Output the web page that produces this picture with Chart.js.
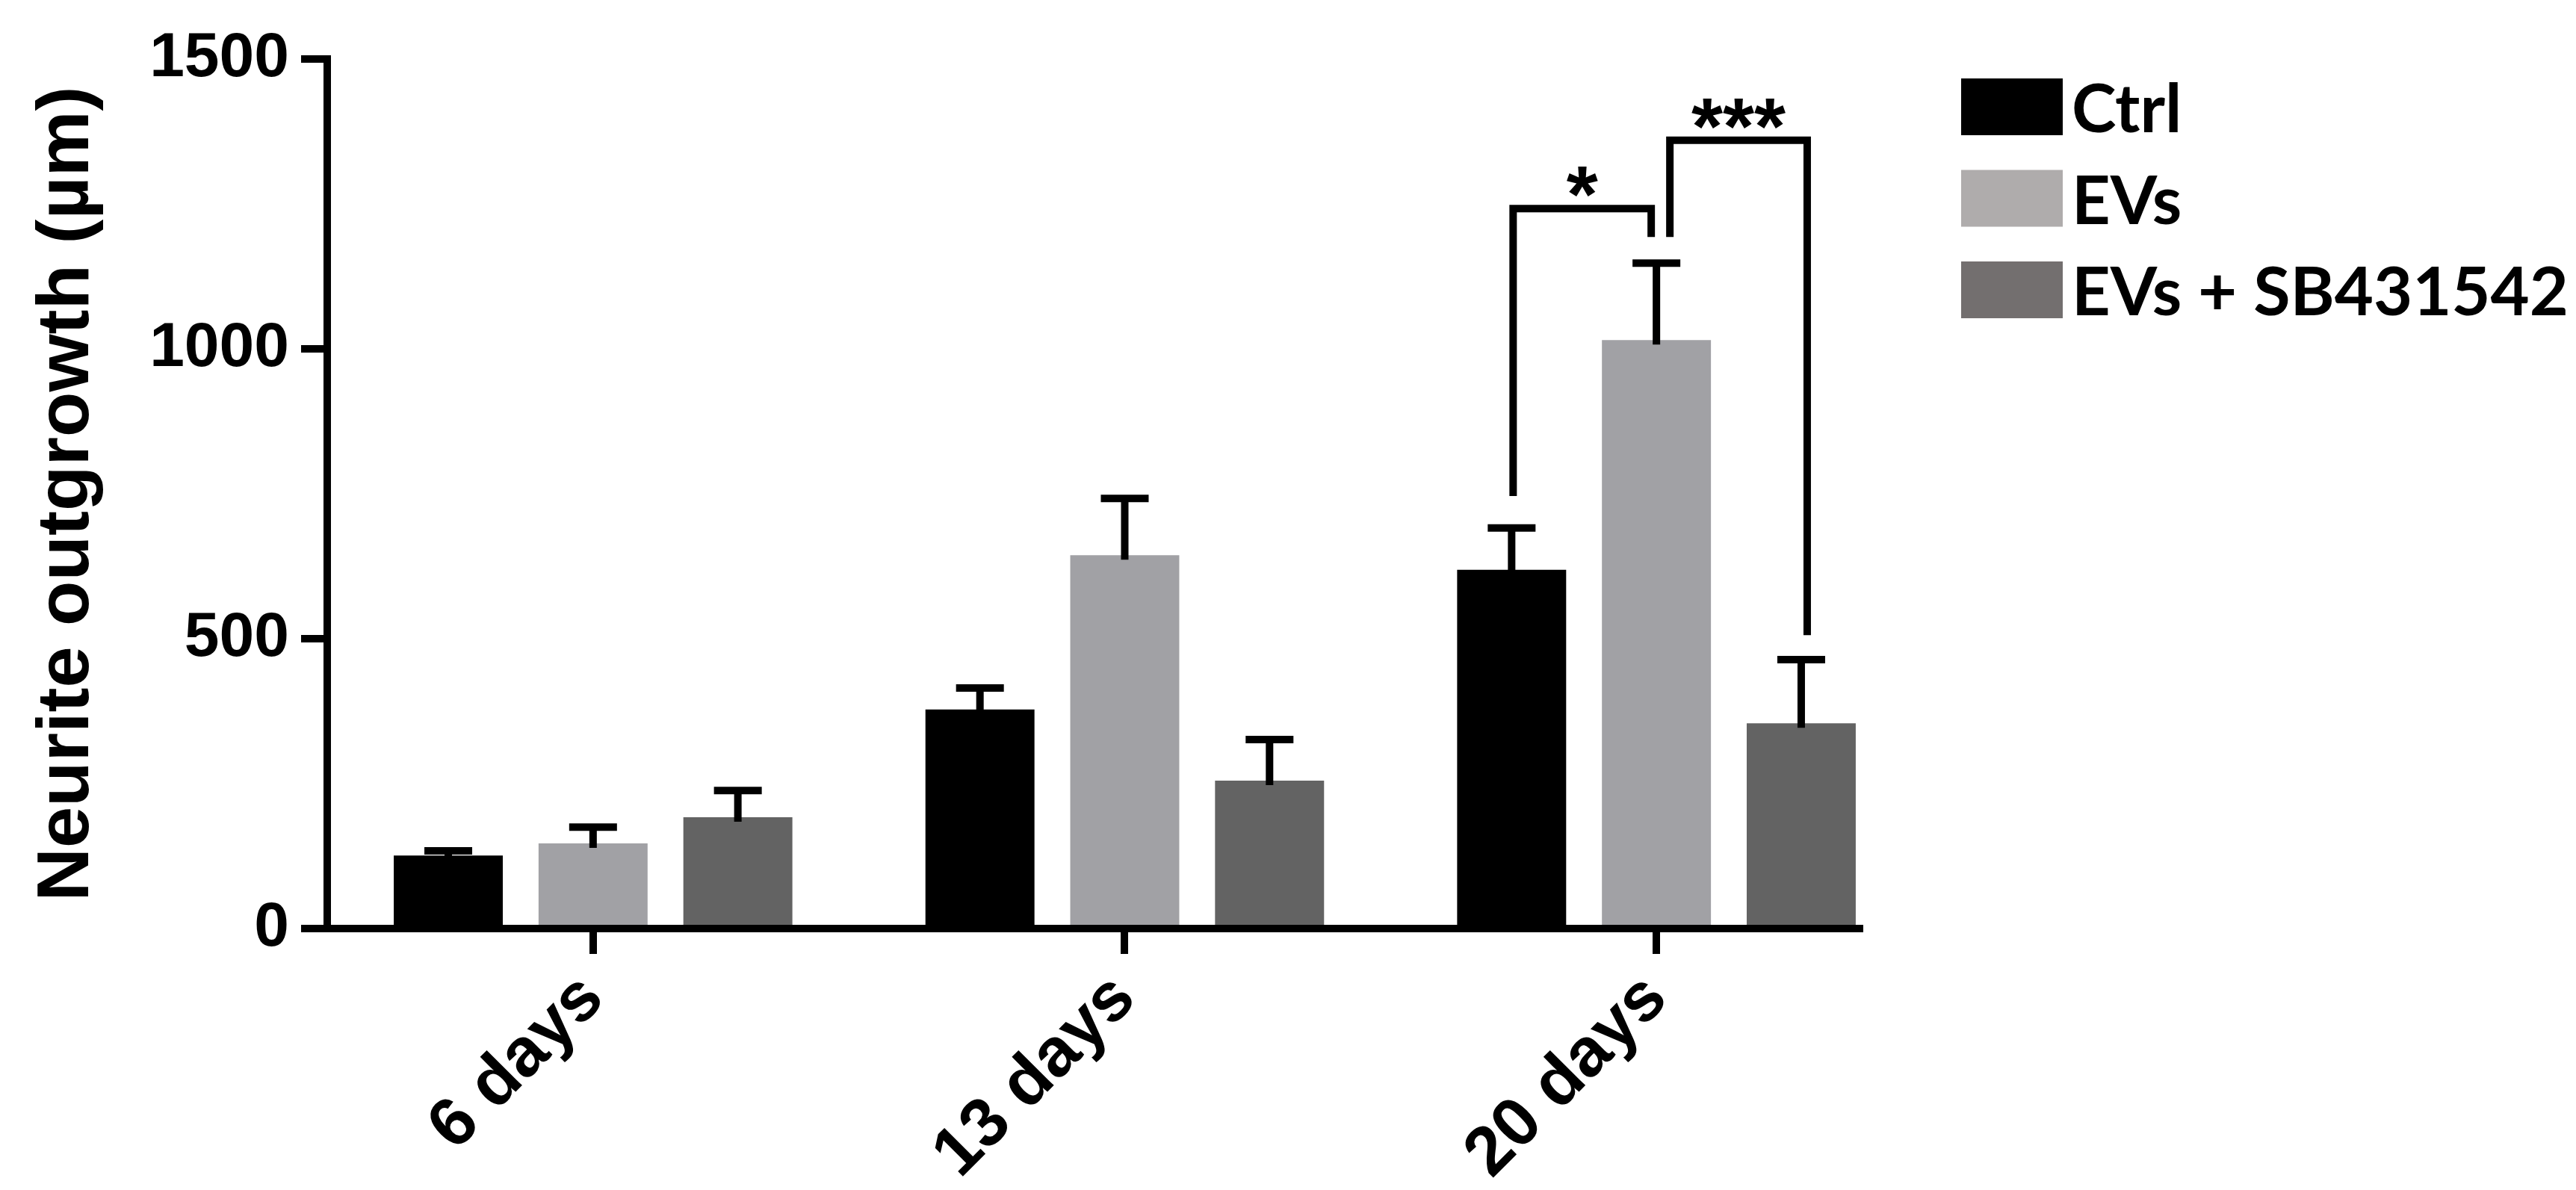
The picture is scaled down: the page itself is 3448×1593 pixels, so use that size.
<!DOCTYPE html>
<html>
<head>
<meta charset="utf-8">
<script src="https://cdn.jsdelivr.net/npm/chart.js@4.4.1/dist/chart.umd.min.js"></script>
<style>
html, body { margin: 0; padding: 0; background: #fff; }
#wrap { width: 3448px; height: 1593px; }
</style>
</head>
<body>
<div id="wrap"><canvas id="grafica"></canvas></div>
<script>
// datos
const dias = ['6 days', '13 days', '20 days'];
const series = ['Ctrl', 'EVs', 'EVs + SB431542'];
const ctrlMedia = [126, 378, 619];
const ctrlErr = [8, 37, 72];
const evsMedia = [147, 644, 1015];
const evsErr = [28, 98, 133];
const sbMedia = [192, 255, 354];
const sbErr = [46, 71, 110];
const yTicks = [0, 500, 1000, 1500];
// brackets at 20 days: [serie desde, serie hasta, valor pata izq, valor arriba, valor pata der, texto]
const signif = [
    [0, 1, 746, 1242, 1193, '*'],
    [1, 2, 1193, 1360, 506, '***']
];

const colBarras = ['#000000', '#a1a1a5', '#636363'];
const colLeyenda = ['#000000', '#afacac', '#736f6f'];
const fuenteEje = '"Liberation Sans", Arial, sans-serif';

const medias = [ctrlMedia, evsMedia, sbMedia];
const errores = [ctrlErr, evsErr, sbErr];

const barrasError = {
    id: 'barrasError',
    afterDatasetsDraw(chart) {
        const ctx = chart.ctx;
        const y = chart.scales.y;
        ctx.save();
        ctx.strokeStyle = '#000';
        ctx.lineWidth = 10;
        chart.data.datasets.forEach((ds, i) => {
            chart.getDatasetMeta(i).data.forEach((bar, j) => {
                const top = y.getPixelForValue(ds.data[j].y + ds.err[j]);
                ctx.beginPath();
                ctx.moveTo(bar.x, bar.y + 6);
                ctx.lineTo(bar.x, top);
                ctx.moveTo(bar.x - 32, top);
                ctx.lineTo(bar.x + 32, top);
                ctx.stroke();
            });
        });
        ctx.restore();
    }
};

const corchetes = {
    id: 'corchetes',
    afterDatasetsDraw(chart) {
        const ctx = chart.ctx;
        const y = chart.scales.y;
        const desp = [[2, -7], [18, 8]]; // pequeños desplazamientos de las patas
        ctx.save();
        ctx.strokeStyle = '#000';
        ctx.fillStyle = '#000';
        ctx.lineWidth = 10;
        ctx.lineJoin = 'miter';
        ctx.font = 'bold 108px ' + fuenteEje;
        ctx.textAlign = 'center';
        ctx.textBaseline = 'alphabetic';
        signif.forEach((s, k) => {
            const xl = chart.getDatasetMeta(s[0]).data[2].x + desp[k][0];
            const xr = chart.getDatasetMeta(s[1]).data[2].x + desp[k][1];
            const yt = y.getPixelForValue(s[3]);
            ctx.beginPath();
            ctx.moveTo(xl, y.getPixelForValue(s[2]));
            ctx.lineTo(xl, yt);
            ctx.lineTo(xr, yt);
            ctx.lineTo(xr, y.getPixelForValue(s[4]));
            ctx.stroke();
            ctx.fillText(s[5], (xl + xr) / 2, yt + 18);
        });
        ctx.restore();
    }
};

const leyenda = {
    id: 'leyenda',
    afterDraw(chart) {
        const ctx = chart.ctx;
        ctx.save();
        ctx.font = 'bold 90px Lato, "Open Sans", sans-serif';
        ctx.textAlign = 'left';
        ctx.textBaseline = 'alphabetic';
        series.forEach((nombre, i) => {
            const cy = 143 + i * 122.5;
            ctx.fillStyle = colLeyenda[i];
            ctx.fillRect(2625, cy - 38, 136, 76);
            ctx.fillStyle = '#000';
            ctx.fillText(nombre, 2773, cy + 34);
        });
        ctx.restore();
    }
};

const ctx = document.getElementById('grafica').getContext('2d');
new Chart(ctx, {
    type: 'bar',
    data: {
        datasets: series.map((nombre, i) => ({
            label: nombre,
            data: dias.map((d, j) => ({ x: j, y: medias[i][j] })),
            err: errores[i],
            backgroundColor: colBarras[i],
            borderWidth: 0,
            categoryPercentage: 0.817,
            barPercentage: 0.753
        }))
    },
    options: {
        responsive: true,
        maintainAspectRatio: false,
        animation: false,
        layout: { padding: { top: 79, right: 959, bottom: 0, left: 0 } },
        plugins: { legend: { display: false }, tooltip: { enabled: false } },
        scales: {
            x: {
                type: 'linear',
                min: -0.5,
                max: 2.382,
                offset: false,
                z: 1,
                afterBuildTicks: s => { s.ticks = dias.map((d, i) => ({ value: i })); },
                afterFit: s => { s.height = 350; },
                ticks: {
                    callback: v => dias[v],
                    minRotation: 45,
                    maxRotation: 45,
                    autoSkip: false,
                    padding: 6,
                    color: '#000',
                    font: { family: fuenteEje, size: 92, weight: 'bold' }
                },
                grid: { offset: false, drawOnChartArea: false, color: '#000', lineWidth: 10, tickLength: 34 },
                border: { color: '#000', width: 10 }
            },
            y: {
                min: 0,
                max: 1500,
                z: 1,
                afterBuildTicks: s => { s.ticks = yTicks.map(v => ({ value: v })); },
                afterFit: s => { s.width = 438; },
                ticks: {
                    callback: v => String(v),
                    padding: 16,
                    color: '#000',
                    font: { family: fuenteEje, size: 84, weight: 'bold' }
                },
                grid: { drawOnChartArea: false, color: '#000', lineWidth: 10, tickLength: 35 },
                border: { color: '#000', width: 10 },
                title: {
                    display: true,
                    text: 'Neurite outgrowth (µm)',
                    color: '#000',
                    font: { family: fuenteEje, size: 99, weight: 'bold' },
                    padding: { top: 31, bottom: 0 }
                }
            }
        }
    },
    plugins: [barrasError, corchetes, leyenda]
});
</script>
</body>
</html>
